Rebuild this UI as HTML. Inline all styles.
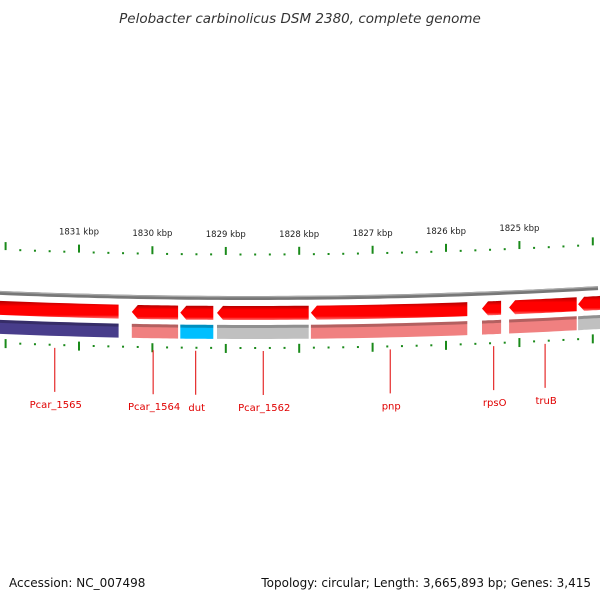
<!DOCTYPE html>
<html><head><meta charset="utf-8">
<style>
html,body{margin:0;padding:0;background:#fff;}
svg{display:block;font-family:"DejaVu Sans","Liberation Sans",sans-serif;}
</style></head>
<body>
<svg id="chart" width="600" height="600" viewBox="0 0 600 600">
<defs>
<linearGradient id="gRed" x1="0" y1="0" x2="0" y2="1">
<stop offset="0" stop-color="#b00000"/><stop offset="0.3" stop-color="#ff0000"/><stop offset="0.8" stop-color="#ff0000"/><stop offset="1" stop-color="#ff7070"/></linearGradient>
</defs>
<text x="300" y="23" text-anchor="middle" font-size="13.5" font-style="italic" fill="#333">Pelobacter carbinolicus DSM 2380, complete genome</text>
<g id="layer"></g>
<text x="9" y="587" font-size="12" fill="#111">Accession: NC_007498</text>
<text x="591" y="587" text-anchor="end" font-size="12" fill="#111">Topology: circular; Length: 3,665,893 bp; Genes: 3,415</text>
</svg>
<script>
// data
const tickKbp = [1832,1831,1830,1829,1828,1827,1826,1825,1824];
const labeledKbp = [1831,1830,1829,1828,1827,1826,1825];
const geneNames = ["Pcar_1566","Pcar_1565","Pcar_1564","dut","Pcar_1562","pnp","rpsO","truB","Pcar_1558"];
const geneStart = [1832.2,1832.08,1830.28,1829.62,1829.12,1827.84,1825.51,1825.14,1824.20];
const geneEnd   = [1832.1,1830.46,1829.65,1829.17,1827.87,1825.71,1825.25,1824.22,1823.8];
const geneColor = ["#483d8b","#483d8b","#f08080","#00bfff","#c0c0c0","#f08080","#f08080","#f08080","#c0c0c0"];
const geneArrow = [false,false,true,true,true,true,true,true,true];
const labelShown = [false,true,true,true,true,true,true,true,false];
const labelKbp = [null,1831.33,1829.99,1829.41,1828.49,1826.76,1825.35,1824.65,null];

const NS="http://www.w3.org/2000/svg";
const layer=document.getElementById('layer');
const xOf = k => 79 + (1831 - k)*73.4;
const yOf = x => 298 - 8.2e-5*(x-250)*(x-250);
function mk(tag,attrs){const e=document.createElementNS(NS,tag);for(const a in attrs)e.setAttribute(a,attrs[a]);layer.appendChild(e);return e;}
function band(x1,x2,o1,o2,arrow){
  x1=Math.max(x1,-2);x2=Math.min(x2,602);
  const pts=[];const n=12;
  const head=arrow?6:0;
  for(let i=0;i<=n;i++){const x=x1+head+(x2-x1-head)*i/n;pts.push([x,yOf(x)+o1]);}
  for(let i=n;i>=0;i--){const x=x1+head+(x2-x1-head)*i/n;pts.push([x,yOf(x)+o2]);}
  if(arrow){pts.push([x1,yOf(x1)+(o1+o2)/2]);}
  return pts.map(p=>p[0].toFixed(1)+','+p[1].toFixed(1)).join(' ');
}
// backbone
{const pts=[];for(let x=-2;x<=602;x+=10)pts.push(x+','+(yOf(x)).toFixed(1));
 const e=mk('polyline',{points:pts.join(' '),fill:'none',stroke:'#777','stroke-width':4});
 
 
 const e2=mk('polyline',{points:pts.join(' '),fill:'none',stroke:'#aaa','stroke-width':1.2,transform:'translate(0,-1.3)'});
 
 }
// ticks
for(let i=0;i<tickKbp.length;i++){
  for(let m=0;m<5;m++){
    const k=tickKbp[i]-m*0.2; const x=xOf(k); if(x<-2||x>602)continue;
    const y=yOf(x); const major=m===0;
    const t1=mk('line',{x1:x,x2:x,y1:y-(major?51:44.5),y2:y-(major?43:42.5),stroke:'#1a8a1a','stroke-width':2});
    
    
    const t2=mk('line',{x1:x,x2:x,y1:y+(major?46:49),y2:y+(major?55:51),stroke:'#1a8a1a','stroke-width':2});
    
    
  }
}
for(let i=0;i<labeledKbp.length;i++){
  const x=xOf(labeledKbp[i]);
  const t=mk('text',{x:x,y:yOf(x)-61,'text-anchor':'middle','font-size':8.5,fill:'#222'});
  t.textContent=labeledKbp[i]+' kbp';
  
  
}
// genes
for(let i=0;i<geneNames.length;i++){
  const x1=xOf(geneStart[i]), x2=xOf(geneEnd[i]);
  const g=mk('polygon',{points:band(x1,x2,8,22,geneArrow[i]),fill:'url(#gRed)'});
  
  
  const c=mk('polygon',{points:band(x1,x2,27,41,false),fill:geneColor[i]});
  
  
  const s=mk('polygon',{points:band(x1,x2,27,30,false),fill:'#000','fill-opacity':0.25});
  
  
  if(labelShown[i]){
    const lx = xOf(labelKbp[i]);
    const ln=mk('line',{x1:lx,x2:lx,y1:yOf(lx)+53,y2:yOf(lx)+97,stroke:'#e00000','stroke-width':1});
    
    
    const t=mk('text',{x:lx+1,y:yOf(lx)+113,'text-anchor':'middle','font-size':10,fill:'#e00000'});
    t.textContent=geneNames[i];
    
    
  }
}
</script>
</body></html>
